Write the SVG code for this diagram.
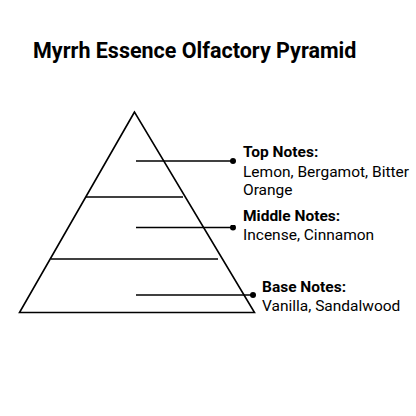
<svg xmlns="http://www.w3.org/2000/svg" width="416" height="416" viewBox="0 0 416 416">
<style>
.t{font-family:Roboto,"Liberation Sans",sans-serif;fill:#000}
.title{font-size:21.5px;font-weight:bold}
.h{font-size:15.5px;font-weight:bold}
.b{font-size:15.5px}
.ln{stroke:#000;stroke-width:1.6;fill:none}
</style>
<defs><marker id="dot" viewBox="0 0 6 6" refX="3" refY="3" markerWidth="6" markerHeight="6" markerUnits="userSpaceOnUse"><circle cx="3" cy="3" r="3" fill="#000"/></marker></defs>
<rect width="416" height="416" fill="#fff"/>
<text class="t title" x="33" y="58">Myrrh Essence Olfactory Pyramid</text>
<g id="pyramid">
<polygon class="ln" points="134.5,112 19.5,312.5 254.5,312.5"/>
<line class="ln" x1="86" y1="197" x2="183" y2="197"/>
<line class="ln" x1="51" y1="259" x2="218" y2="259"/>
</g>
<g id="connectors">
<line class="ln" x1="136" y1="161" x2="233" y2="161" marker-end="url(#dot)"/>
<line class="ln" x1="136" y1="227.5" x2="233" y2="227.5" marker-end="url(#dot)"/>
<line class="ln" x1="136" y1="295" x2="253" y2="295" marker-end="url(#dot)"/>
</g>
<g id="top-notes">
<text class="t h" x="243" y="157.3">Top Notes:</text>
<text class="t b" x="243" y="176.5">Lemon, Bergamot, Bitter</text>
<text class="t b" x="243" y="194.5">Orange</text>
</g>
<g id="middle-notes">
<text class="t h" x="243" y="220.5">Middle Notes:</text>
<text class="t b" x="243" y="239.5">Incense, Cinnamon</text>
</g>
<g id="base-notes">
<text class="t h" x="262" y="292">Base Notes:</text>
<text class="t b" x="262" y="310.5">Vanilla, Sandalwood</text>
</g>
</svg>
